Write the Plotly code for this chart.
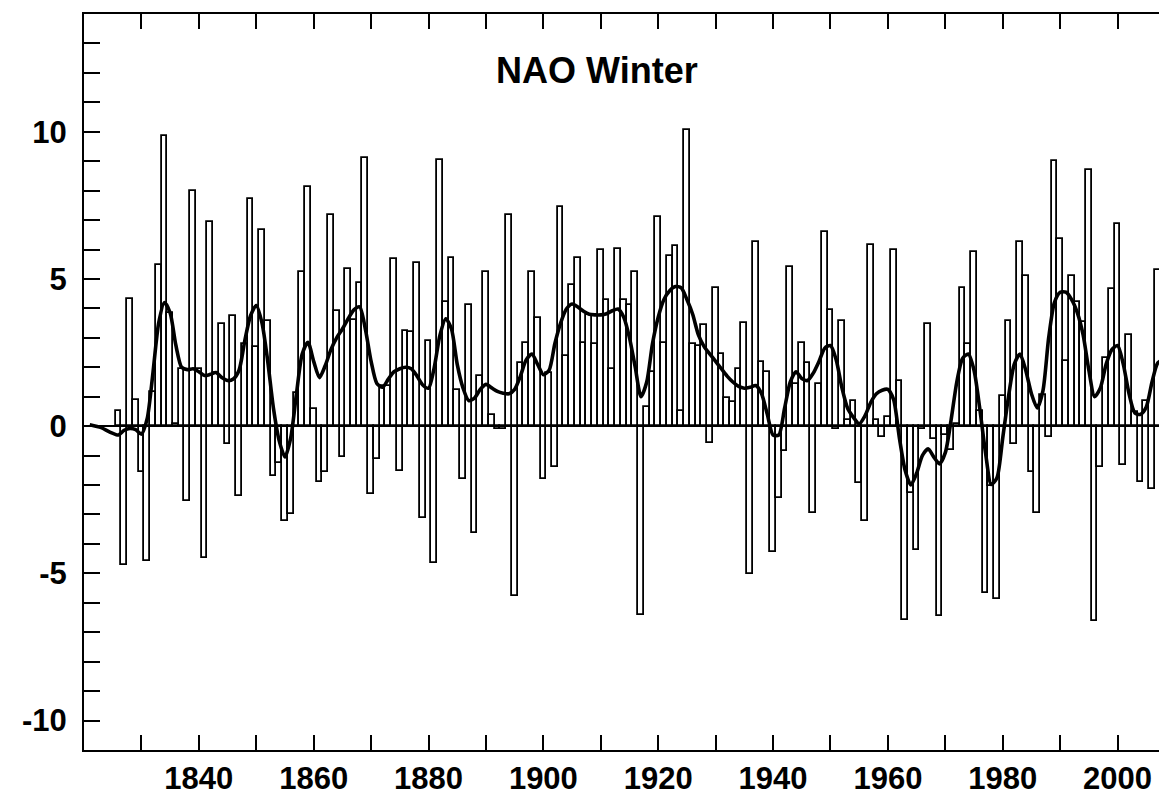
import plotly.graph_objects as go

# ---- data ----
years = list(range(1826, 2009))
nao = [
    0.52, -4.70, 4.33, 0.90, -1.56, -4.58, 1.17, 5.48, 9.87, 3.85,   # 1826-1835
    0.08, 1.95, -2.55, 8.00, 1.95, -4.49, 6.92, 1.80, 3.47, -0.62,   # 1836-1845
    3.73, -2.38, 2.78, 7.72, 2.70, 6.67, 3.57, -1.70, -1.24, -3.21,  # 1846-1855
    -2.99, 1.13, 5.22, 8.11, 0.58, -1.89, -1.56, 7.16, 3.92, -1.06,  # 1856-1865
    5.35, 3.60, 4.87, 9.11, -2.32, -1.12, 1.38, 1.38, 5.67, -1.51,   # 1866-1875
    3.22, 3.20, 5.54, -3.12, 2.90, -4.64, 9.05, 4.21, 5.72, 1.22,    # 1876-1885
    -1.81, 4.10, -3.62, 1.70, 5.22, 0.39, -0.10, -0.10, 7.17, -5.78, # 1886-1895
    2.13, 2.84, 5.22, 3.66, -1.81, 1.80, -1.38, 7.43, 2.40, 4.80,    # 1896-1905
    5.72, 2.84, 3.79, 2.78, 5.98, 4.30, 1.95, 6.03, 4.30, 4.10,      # 1906-1915
    5.22, -6.41, 0.65, 1.83, 7.10, 2.84, 5.78, 6.11, 0.52, 10.06,    # 1916-1925
    2.78, 2.71, 3.45, -0.56, 4.71, 2.46, 0.94, 0.81, 1.95, 3.51,     # 1926-1935
    -5.02, 6.24, 2.17, 1.83, -4.26, -2.45, -0.86, 5.40, 1.44, 2.84,  # 1936-1945
    2.14, -2.95, 1.44, 6.60, 3.95, -0.11, 3.57, 0.20, 0.84, -1.94,   # 1946-1955
    -3.21, 6.17, 0.20, -0.37, 0.30, 5.97, 1.55, -6.57, -2.26, -4.20, # 1956-1965
    -0.11, 3.47, -0.43, -6.45, -0.30, -0.81, 0.08, 4.71, 2.78, 5.90, # 1966-1975
    0.52, -5.65, -2.04, -5.88, 1.03, 3.57, -0.62, 6.24, 5.10, -1.56, # 1976-1985
    -2.95, 1.06, -0.37, 9.01, 6.35, 2.23, 5.10, 4.21, 3.54, 8.69,    # 1986-1995
    -6.63, -1.38, 2.33, 4.67, 6.87, -1.31, 3.09, 0.49, -1.89, 0.84,  # 1996-2005
    -2.14, 5.29, 5.12,                                               # 2006-2008
]

smooth_years = [
    1821, 1823, 1824.5, 1826, 1827, 1828, 1829, 1830, 1831, 1832, 1833, 1834,
    1835, 1836, 1837, 1838, 1839, 1840, 1841, 1842, 1843, 1844, 1845, 1846,
    1847, 1848, 1849, 1850, 1851, 1852, 1853, 1854, 1855, 1856, 1857, 1858,
    1859, 1860, 1861, 1862, 1863, 1864, 1865, 1866, 1867, 1868, 1869, 1870,
    1871, 1872, 1873, 1874, 1875, 1876, 1877, 1878, 1879, 1880, 1881, 1882,
    1883, 1884, 1885, 1886, 1887, 1888, 1889, 1890, 1891, 1892, 1893, 1894,
    1895, 1896, 1897, 1898, 1899, 1900, 1901, 1902, 1903, 1904, 1905, 1906,
    1907, 1908, 1909, 1910, 1911, 1912, 1913, 1914, 1915, 1916, 1917, 1918,
    1919, 1920, 1921, 1922, 1923, 1924, 1925, 1926, 1927, 1928, 1929, 1930,
    1931, 1932, 1933, 1934, 1935, 1936, 1937, 1938, 1939, 1940, 1941, 1942,
    1943, 1944, 1945, 1946, 1947, 1948, 1949, 1950, 1951, 1952, 1953, 1954,
    1955, 1956, 1957, 1958, 1959, 1960, 1961, 1962, 1963, 1964, 1965, 1966,
    1967, 1968, 1969, 1970, 1971, 1972, 1973, 1974, 1975, 1976, 1977, 1978,
    1979, 1980, 1981, 1982, 1983, 1984, 1985, 1986, 1987, 1988, 1989, 1990,
    1991, 1992, 1993, 1994, 1995, 1996, 1997, 1998, 1999, 2000, 2001, 2002,
    2003, 2004, 2005, 2006, 2007, 2008, 2009,
]
smooth_vals = [
    0.05, -0.05, -0.20, -0.30, -0.14, -0.08, -0.12, -0.27, 0.25, 1.80, 3.50, 4.20,
    3.85, 2.75, 2.00, 1.92, 1.95, 1.85, 1.72, 1.76, 1.82, 1.65, 1.55, 1.60,
    1.90, 2.90, 3.75, 4.10, 3.50, 2.20, 0.60, -0.50, -1.05, -0.40, 1.10, 2.45,
    2.85, 2.20, 1.65, 2.05, 2.60, 3.00, 3.30, 3.65, 3.95, 4.05, 3.30, 2.20,
    1.45, 1.32, 1.60, 1.85, 1.95, 2.00, 1.95, 1.70, 1.40, 1.29, 2.00, 3.10,
    3.65, 3.30, 2.10, 1.30, 0.87, 0.95, 1.25, 1.42, 1.30, 1.18, 1.12, 1.10,
    1.25, 1.70, 2.25, 2.45, 2.10, 1.75, 1.90, 2.80, 3.50, 3.98, 4.15, 4.05,
    3.90, 3.80, 3.78, 3.78, 3.82, 3.92, 3.98, 3.70, 3.00, 2.00, 1.00, 1.50,
    2.80, 3.70, 4.30, 4.60, 4.74, 4.70, 4.30, 3.80, 3.10, 2.70, 2.45, 2.20,
    1.95, 1.70, 1.50, 1.35, 1.29, 1.32, 1.38, 1.10, 0.40, -0.30, -0.30, 0.60,
    1.50, 1.85, 1.62, 1.55, 1.80, 2.20, 2.65, 2.74, 2.25, 1.30, 0.60, 0.30,
    0.08, 0.35, 0.80, 1.10, 1.22, 1.25, 0.90, -0.40, -1.50, -2.00, -1.60, -1.00,
    -0.77, -1.05, -1.28, -0.90, 0.20, 1.50, 2.30, 2.45, 1.90, 0.60, -0.90, -1.98,
    -1.75, -0.40, 1.00, 2.10, 2.45, 1.90, 1.10, 0.62, 1.20, 3.00, 4.20, 4.55,
    4.55, 4.30, 3.85, 3.10, 1.90, 1.00, 1.30, 2.10, 2.60, 2.74, 2.10, 1.10,
    0.45, 0.40, 0.65, 1.50, 2.15, 2.25, 2.10,
]

title_text = "NAO Winter"
x_tickvals = [1840, 1860, 1880, 1900, 1920, 1940, 1960, 1980, 2000]
x_ticktext = ["1840", "1860", "1880", "1900", "1920", "1940", "1960", "1980", "2000"]
x_minorvals = list(range(1830, 2010, 10))
y_tickvals = [-10, -5, 0, 5, 10]
y_ticktext = ["-10", "-5", "0", "5", "10"]
y_minorvals = list(range(-11, 15))

# ---- figure ----
# The page body adds an 8 px offset; margins below compensate so the
# plot frame sits at x=84..1175, y=14..750 in the browser window.
font_family = "Liberation Sans, Arial, Helvetica, sans-serif"
tick_font = dict(family=font_family, size=31, color="black", weight="bold")

FIG_W, FIG_H = 1167, 783
M_L, M_R, M_T, M_B = 76, 0, 6, 41
plot_w = FIG_W - M_L - M_R
plot_h = FIG_H - M_T - M_B

fig = go.Figure()
fig.add_trace(go.Bar(
    x=years, y=nao, width=1,
    marker=dict(color="rgba(0,0,0,0)", line=dict(color="black", width=1.8)),
    showlegend=False, hoverinfo="x+y",
))
fig.add_trace(go.Scatter(
    x=smooth_years, y=smooth_vals, mode="lines",
    line=dict(color="black", width=3.6, shape="spline", smoothing=0.7),
    showlegend=False,
))

fig.update_layout(
    width=FIG_W, height=FIG_H,
    margin=dict(l=M_L, r=M_R, t=M_T, b=M_B, autoexpand=False),
    paper_bgcolor="white", plot_bgcolor="white",
    bargap=0,
    xaxis=dict(
        range=[1820, 2010], tickmode="array",
        tickvals=x_tickvals, ticktext=x_ticktext,
        ticks="inside", ticklen=15, tickwidth=2, tickcolor="black",
        showline=True, linewidth=2, linecolor="black", mirror="ticks",
        showgrid=False, zeroline=False, tickfont=tick_font,
        ticklabelstandoff=0, automargin=False,
        minor=dict(tickmode="array", tickvals=x_minorvals, ticks="inside",
                   ticklen=15, tickwidth=2, tickcolor="black", showgrid=False),
    ),
    yaxis=dict(
        range=[-11, 14], tickmode="array",
        tickvals=y_tickvals, ticktext=y_ticktext,
        ticks="inside", ticklen=16, tickwidth=2, tickcolor="black",
        showline=True, linewidth=2, linecolor="black", mirror="ticks",
        showgrid=False, zeroline=True, zerolinecolor="black", zerolinewidth=1.5,
        tickfont=tick_font, ticklabelstandoff=9, automargin=False,
        minor=dict(tickmode="array", tickvals=y_minorvals, ticks="inside",
                   ticklen=16, tickwidth=2, tickcolor="black", showgrid=False),
    ),
    annotations=[dict(
        text=title_text, xref="paper", yref="paper",
        x=(597 - 8 - M_L) / plot_w, y=1 - (70 - 8 - M_T) / plot_h,
        xanchor="center", yanchor="middle", showarrow=False,
        font=dict(family=font_family, size=36, color="black", weight="bold"),
    )],
)

fig.write_html("out.html")
